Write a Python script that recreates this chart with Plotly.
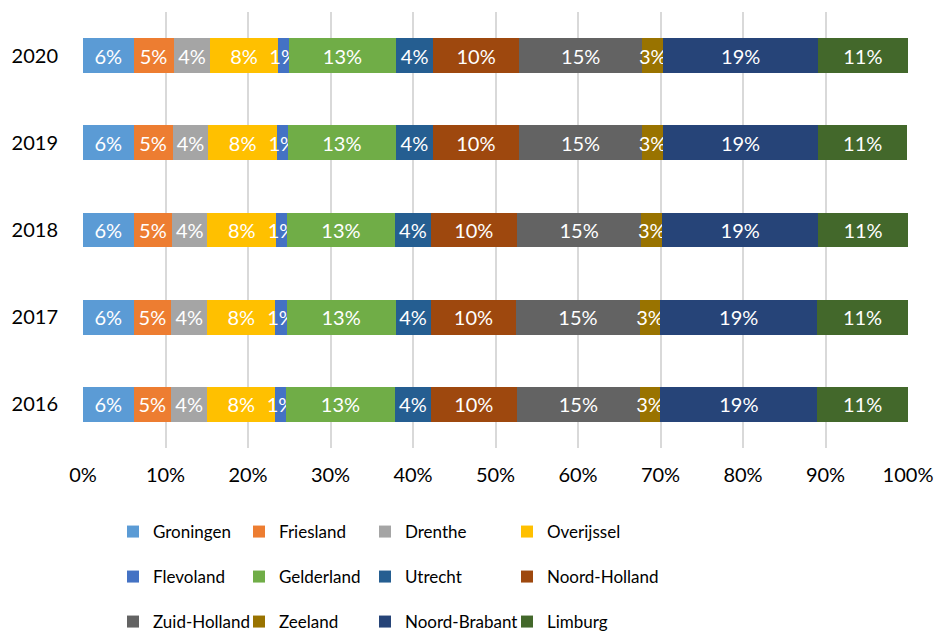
import plotly.graph_objects as go

# Share of each province per year (percent of total)
years = ["2016", "2017", "2018", "2019", "2020"]
provinces = ["Groningen", "Friesland", "Drenthe", "Overijssel", "Flevoland", "Gelderland",
             "Utrecht", "Noord-Holland", "Zuid-Holland", "Zeeland", "Noord-Brabant", "Limburg"]

groningen     = [6.13, 6.13, 6.13, 6.13, 6.13]
friesland     = [4.52, 4.57, 4.69, 4.73, 4.85]
drenthe       = [4.42, 4.37, 4.25, 4.33, 4.45]
overijssel    = [8.24, 8.24, 8.36, 8.33, 8.16]
flevoland     = [1.25, 1.37, 1.25, 1.28, 1.33]
gelderland    = [13.29, 13.21, 13.17, 13.14, 13.05]
utrecht       = [4.28, 4.24, 4.28, 4.45, 4.45]
noord_holland = [10.47, 10.39, 10.47, 10.46, 10.45]
zuid_holland  = [14.87, 14.95, 15.07, 14.91, 14.91]
zeeland       = [2.51, 2.51, 2.55, 2.55, 2.55]
noord_brabant = [19.02, 18.99, 18.87, 18.78, 18.78]
limburg       = [11.00, 11.03, 10.91, 10.84, 10.84]

series = [groningen, friesland, drenthe, overijssel, flevoland, gelderland,
          utrecht, noord_holland, zuid_holland, zeeland, noord_brabant, limburg]

colors = ["#5B9BD5", "#ED7D31", "#A5A5A5", "#FFC000", "#4472C4", "#70AD47",
          "#255E91", "#9E480E", "#636363", "#997300", "#264478", "#43682B"]

FONT = "Lato"
W, H = 938, 633
plot_top, plot_bottom = 12, 448

# Legend grid: 4 columns x 3 rows, one single-entry legend per cell
row_centers = [532, 577, 622]
col_lefts = [113, 239, 365, 507]


def legend_name(i):
    return "legend" if i == 0 else f"legend{i + 1}"


fig = go.Figure()
for i, (name, vals, col) in enumerate(zip(provinces, series, colors)):
    fig.add_trace(go.Bar(
        y=years, x=vals, name=name, orientation="h",
        marker=dict(color=col, line=dict(width=0)),
        text=[f"{round(v):d}%" for v in vals],
        textposition="inside", insidetextanchor="middle", textangle=0,
        constraintext="none", cliponaxis=False,
        textfont=dict(color="white", size=20, family=FONT),
        legend=legend_name(i), showlegend=True,
        hovertemplate="%{y} " + name + ": %{x:.1f}%<extra></extra>",
    ))

legends = {}
for i in range(len(provinces)):
    row, col = divmod(i, 4)
    legends[legend_name(i)] = dict(
        orientation="h", xref="container", yref="container",
        x=col_lefts[col] / W, xanchor="left",
        y=1 - row_centers[row] / H, yanchor="middle",
        font=dict(family=FONT, size=17, color="#000000"),
        bgcolor="rgba(0,0,0,0)",
    )

fig.update_layout(
    width=W, height=H, showlegend=True,
    margin=dict(l=83, r=30, t=plot_top, b=H - plot_bottom, autoexpand=False),
    barmode="stack", bargap=0.6,
    paper_bgcolor="white", plot_bgcolor="white",
    font=dict(family=FONT, size=20, color="#000000"),
    xaxis=dict(range=[0, 100], tickvals=[0, 10, 20, 30, 40, 50, 60, 70, 80, 90, 100],
               ticktext=[f"{t}%" for t in range(0, 101, 10)],
               showgrid=True, gridcolor="#D9D9D9", gridwidth=1.5, zeroline=False,
               showline=False, ticks="", ticklabelstandoff=13, automargin=False,
               tickfont=dict(family=FONT, size=20, color="#000000")),
    yaxis=dict(categoryorder="array", categoryarray=years, showgrid=False,
               showline=False, ticks="", ticklabelstandoff=24, automargin=False,
               tickfont=dict(family=FONT, size=20, color="#000000")),
    **legends,
)

fig.write_html("out.html")
